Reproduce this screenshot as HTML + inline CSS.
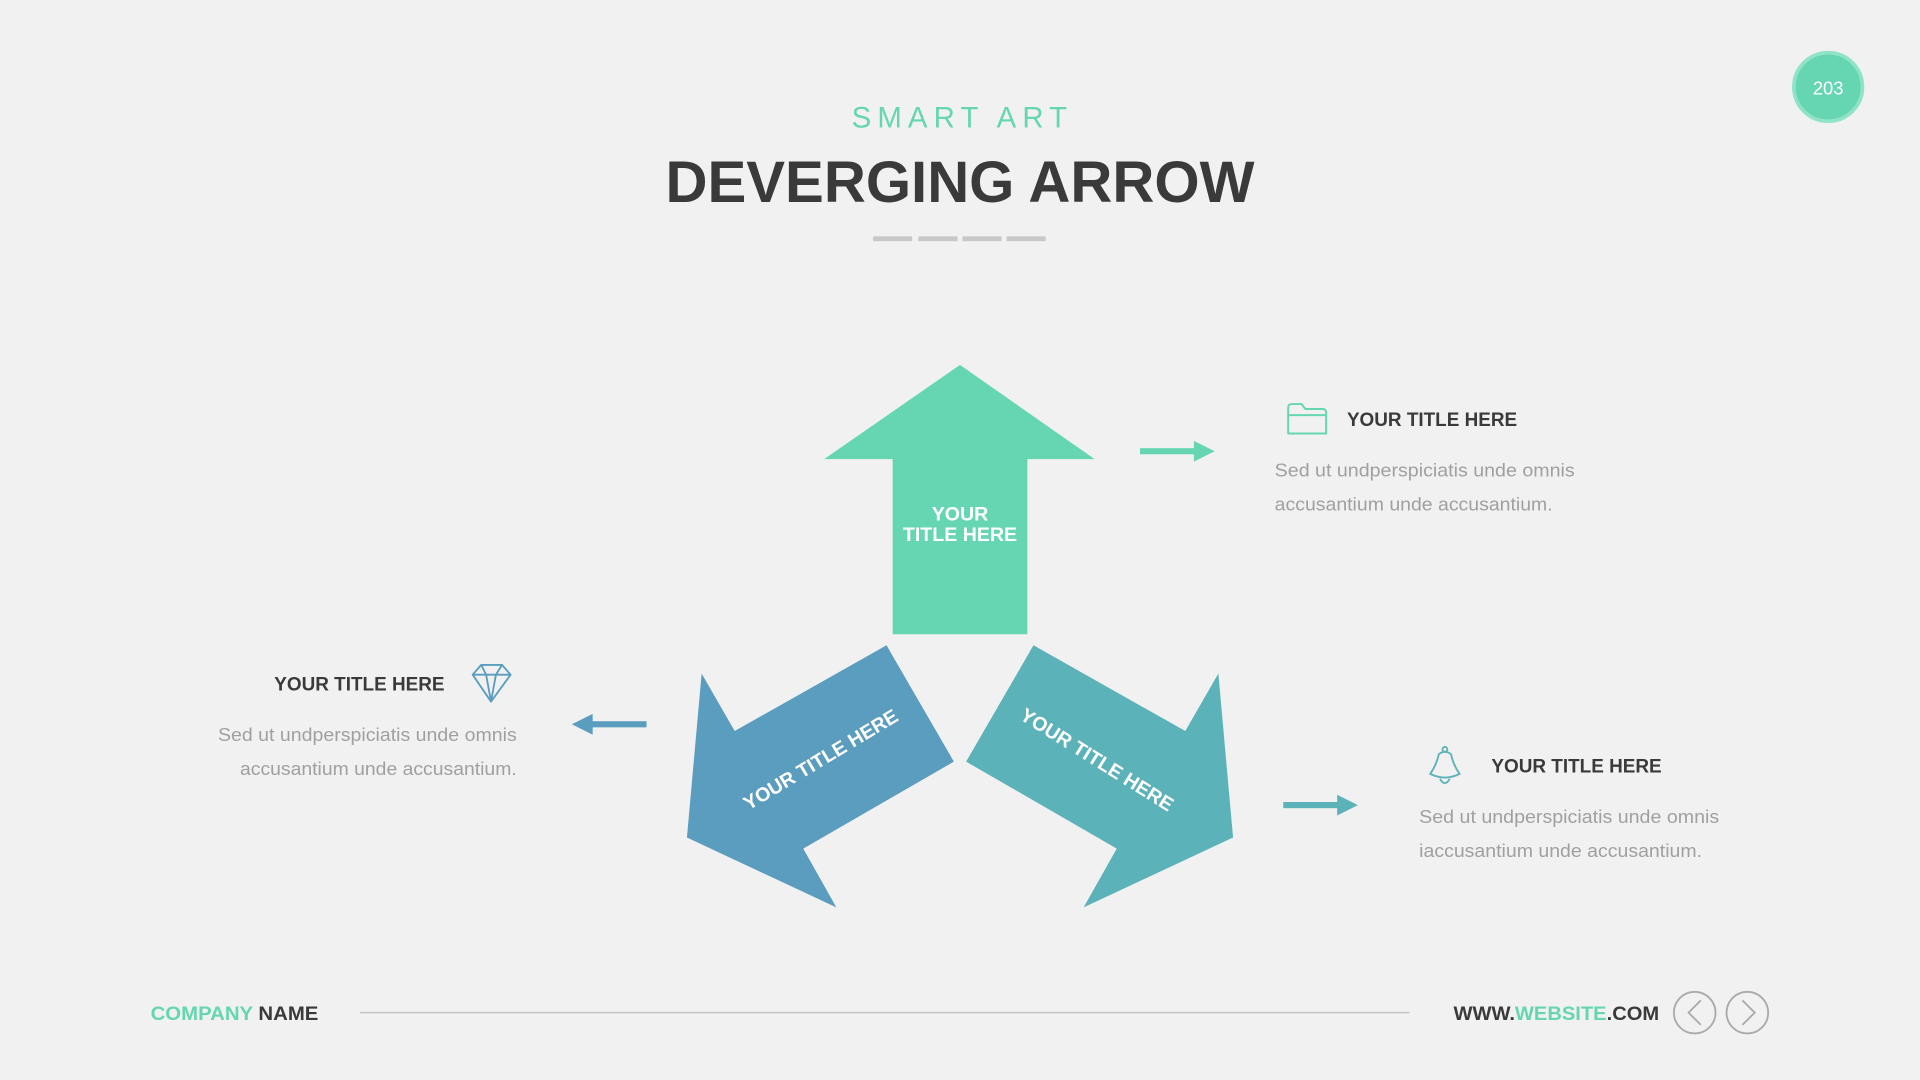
<!DOCTYPE html>
<html><head><meta charset="utf-8">
<style>
html,body{margin:0;padding:0;background:#f1f1f1;width:1920px;height:1080px;overflow:hidden}
svg{display:block}
text{font-family:"Liberation Sans",sans-serif}
</style></head>
<body>
<svg width="1920" height="1080" viewBox="0 0 1568 882" xmlns="http://www.w3.org/2000/svg">
<rect width="1568" height="882" fill="#f1f1f1"/>

<circle cx="1493" cy="71" r="28" fill="#66d6b2" stroke="#8fe3c7" stroke-width="3"/>
<text x="1493" y="77" text-anchor="middle" font-size="15" fill="#fff">203</text>

<text x="786" y="104" text-anchor="middle" font-size="24" fill="#66d6b2" letter-spacing="5">SMART ART</text>
<text x="784" y="165" text-anchor="middle" font-size="48" font-weight="bold" fill="#3a3a3a" textLength="481" lengthAdjust="spacingAndGlyphs">DEVERGING ARROW</text>
<g fill="#c8c8c8">
<rect x="713" y="193" width="32" height="4"/><rect x="750" y="193" width="32" height="4"/>
<rect x="786" y="193" width="32" height="4"/><rect x="822" y="193" width="32" height="4"/>
</g>

<polygon points="784,298 894,375 839,375 839,518 729,518 729,375 673,375" fill="#66d6b2"/>
<polygon points="724,527 779,622 656,693 683,741 561,684 573,550 600,597" fill="#5a9dbf"/>
<polygon points="844,527 789,622 912,693 885,741 1007,684 995,550 968,597" fill="#5cb2b9"/>

<text x="784" y="425" text-anchor="middle" font-size="16" font-weight="bold" fill="#fff">YOUR</text>
<text x="784" y="442" text-anchor="middle" font-size="16" font-weight="bold" fill="#fff">TITLE HERE</text>
<text transform="translate(673,625) rotate(-31)" text-anchor="middle" font-size="16" font-weight="bold" fill="#fff">YOUR TITLE HERE</text>
<text transform="translate(893,625) rotate(32)" text-anchor="middle" font-size="16" font-weight="bold" fill="#fff">YOUR TITLE HERE</text>

<rect x="931" y="366" width="46" height="5" fill="#66d6b2"/><polygon points="975,360 992,368.5 975,377" fill="#66d6b2"/>
<rect x="482" y="589" width="46" height="5" fill="#5a9dbf"/><polygon points="484,583 467,591.5 484,600" fill="#5a9dbf"/>
<rect x="1048" y="655" width="46" height="5" fill="#5cb2b9"/><polygon points="1092,649 1109,657.5 1092,666" fill="#5cb2b9"/>

<path d="M1052,354 V333 Q1052,330 1055,330 H1063 L1066,334 H1080 Q1083,334 1083,337 V354 Z M1052,339 H1083" fill="none" stroke="#66d6b2" stroke-width="1.6" stroke-linejoin="round"/>
<text x="1100" y="348" font-size="16" font-weight="bold" fill="#3a3a3a" textLength="139" lengthAdjust="spacingAndGlyphs">YOUR TITLE HERE</text>
<text x="1041" y="389" font-size="15" fill="#a0a0a0" textLength="245" lengthAdjust="spacingAndGlyphs">Sed ut undperspiciatis unde omnis</text>
<text x="1041" y="417" font-size="15" fill="#a0a0a0" textLength="227" lengthAdjust="spacingAndGlyphs">accusantium unde accusantium.</text>

<path d="M393,543 H410 L417,551 L401,573 L386,551 Z M386,551 H417 M393,543 L397,551 L401,573 L405,551 L410,543" fill="none" stroke="#5a9dbf" stroke-width="1.5" stroke-linejoin="round"/>
<text x="224" y="564" font-size="16" font-weight="bold" fill="#3a3a3a" textLength="139" lengthAdjust="spacingAndGlyphs">YOUR TITLE HERE</text>
<text x="178" y="605" font-size="15" fill="#a0a0a0" textLength="244" lengthAdjust="spacingAndGlyphs">Sed ut undperspiciatis unde omnis</text>
<text x="196" y="633" font-size="15" fill="#a0a0a0" textLength="226" lengthAdjust="spacingAndGlyphs">accusantium unde accusantium.</text>

<g fill="none" stroke="#5cb2b9" stroke-width="1.5">
<circle cx="1180" cy="612" r="2"/>
<path d="M1175,616 Q1180,612 1185,616 Q1187,625 1192,632 Q1180,638 1168,632 Q1173,625 1175,616 Z"/>
<path d="M1176,636 Q1180,643 1184,636"/>
</g>
<text x="1218" y="631" font-size="16" font-weight="bold" fill="#3a3a3a" textLength="139" lengthAdjust="spacingAndGlyphs">YOUR TITLE HERE</text>
<text x="1159" y="672" font-size="15" fill="#a0a0a0" textLength="245" lengthAdjust="spacingAndGlyphs">Sed ut undperspiciatis unde omnis</text>
<text x="1159" y="700" font-size="15" fill="#a0a0a0" textLength="231" lengthAdjust="spacingAndGlyphs">iaccusantium unde accusantium.</text>

<text x="123" y="833" font-size="16" font-weight="bold" fill="#66d6b2" textLength="137" lengthAdjust="spacingAndGlyphs">COMPANY <tspan fill="#3a3a3a">NAME</tspan></text>
<line x1="294" y1="827" x2="1151" y2="827" stroke="#c4c4c4" stroke-width="1.2"/>
<text x="1187" y="833" font-size="16" font-weight="bold" fill="#3a3a3a" textLength="168" lengthAdjust="spacingAndGlyphs">WWW.<tspan fill="#66d6b2">WEBSITE</tspan>.COM</text>
<circle cx="1384" cy="827" r="17" fill="none" stroke="#aaa" stroke-width="1.5"/>
<circle cx="1427" cy="827" r="17" fill="none" stroke="#aaa" stroke-width="1.5"/>
<path d="M1389,817 L1379,827 L1389,837" fill="none" stroke="#aaa" stroke-width="1.5"/>
<path d="M1423,817 L1433,827 L1423,837" fill="none" stroke="#aaa" stroke-width="1.5"/>
</svg>
</body></html>
